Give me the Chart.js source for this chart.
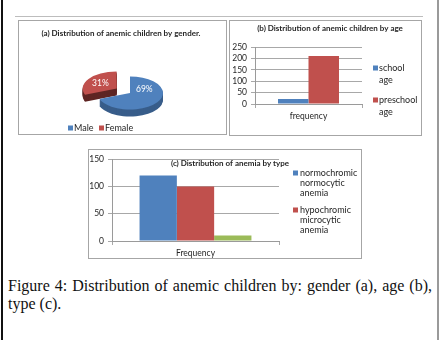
<!DOCTYPE html>
<html><head><meta charset="utf-8">
<script src="https://cdn.jsdelivr.net/npm/chart.js@4.4.1/dist/chart.umd.min.js"></script>
<style>
html,body{margin:0;padding:0;background:#fff;}
body{width:439px;height:340px;position:relative;overflow:hidden;}
.ln{position:absolute;}
.panel{position:absolute;box-sizing:border-box;border:1px solid #a6a6a6;background:#fff;}
.panel canvas{position:absolute;left:0;top:0;}
#cap{position:absolute;left:8px;top:277px;width:424px;font-family:"Liberation Serif",serif;font-size:16px;line-height:18px;color:#111;text-align:justify;}
</style></head>
<body>
<div class="ln" style="left:1px;top:0;width:2px;height:340px;background:#111"></div>
<div class="ln" style="left:437px;top:0;width:2px;height:340px;background:#9a9a9a"></div>
<div class="ln" style="left:15px;top:16px;width:408px;height:1px;background:#bdbdbd"></div>
<div class="panel" style="left:18px;top:20px;width:209px;height:115px"><canvas id="ca" width="207" height="113"></canvas></div>
<div class="panel" style="left:229px;top:20px;width:193px;height:116px"><canvas id="cb" width="191" height="114"></canvas></div>
<div class="panel" style="left:88px;top:149px;width:274px;height:110px"><canvas id="cc" width="272" height="108"></canvas></div>
<div id="cap">Figure 4: Distribution of anemic children by: gender (a), age (b), type (c).</div>
<script>
// ---- data ----
const genderLabels = ['Male', 'Female'];
const genderValues = [69, 31];
const ageCategories = ['frequency'];
const ageSeries = ['school age', 'preschool age'];
const ageValues = [22, 210];
const ageTicks = [0, 50, 100, 150, 200, 250];
const typeCategories = ['Frequency'];
const typeSeries = ['normochromic normocytic anemia', 'hypochromic microcytic anemia', 'other'];
const typeValues = [120, 100, 10];
const typeTicks = [0, 50, 100, 150];
const titleA = '(a) Distribution of anemic children by gender.';
const titleB = '(b) Distribution of anemic children by age';
const titleC = '(c) Distribution of anemia by type';

// ---- styles ----
const BLUE = '#4F81BD', RED = '#C0504D', GREEN = '#9BBB59';
const GRID = '#a8a8a8', AXIS = '#9a9a9a', TXT = '#262626';
const FONT = 'Lato';
const TICKFONT = { family: FONT, size: 8.5 };

function makeTexts(items) {
  return { id: 'texts', afterDraw(chart) {
    const ctx = chart.ctx;
    items.forEach(it => {
      ctx.save();
      ctx.font = it.font; ctx.fillStyle = it.color || TXT;
      ctx.textAlign = it.align || 'left'; ctx.textBaseline = 'middle';
      ctx.fillText(it.text, it.x, it.y);
      ctx.restore();
    });
  }};
}
function makeKeys(items, cfg) {
  return { id: 'keys', afterDraw(chart) {
    const ctx = chart.ctx;
    ctx.save();
    items.forEach(it => {
      ctx.fillStyle = it.color;
      ctx.fillRect(it.x, it.y - cfg.size / 2, cfg.size, cfg.size);
      ctx.font = cfg.font; ctx.fillStyle = TXT; ctx.textBaseline = 'middle'; ctx.textAlign = 'left';
      it.lines.forEach((l, j) => ctx.fillText(l, it.x + cfg.gap, it.y + j * cfg.lh));
    });
    ctx.restore();
  }};
}
function makePie3d(cfg) {
  return {
    id: 'pie3d',
    beforeDatasetsDraw(chart) {
      const ctx = chart.ctx;
      const meta = chart.getDatasetMeta(0);
      const cx = meta.data[0].x, cy = meta.data[0].y;
      ctx.save();
      ctx.translate(cx, cy); ctx.scale(1, cfg.tilt); ctx.translate(-cx, -cy);
      for (let k = cfg.depth; k >= 1; k--) {
        ctx.save();
        ctx.translate(0, k / cfg.tilt);
        meta.data.forEach((el, i) => {
          const fake = Object.create(el);
          fake.options = Object.assign({}, el.options, {backgroundColor: cfg.side[i], borderColor: cfg.side[i]});
          fake.draw(ctx);
        });
        ctx.restore();
      }
    },
    afterDatasetsDraw(chart) {
      const ctx = chart.ctx;
      ctx.restore();
      const meta = chart.getDatasetMeta(0);
      const vals = chart.data.datasets[0].data;
      const total = vals.reduce((a, b) => a + b, 0);
      ctx.save();
      ctx.font = cfg.font; ctx.fillStyle = '#fff'; ctx.textAlign = 'center'; ctx.textBaseline = 'middle';
      meta.data.forEach((el, i) => {
        const mid = (el.startAngle + el.endAngle) / 2;
        const off = (el.options.offset || 0) / 4;
        const r = el.outerRadius * cfg.labelR[i] + off;
        const x = el.x + Math.cos(mid) * r + cfg.shift[i][0];
        const y = el.y + Math.sin(mid) * r * cfg.tilt + cfg.shift[i][1];
        ctx.fillText(Math.round(vals[i] / total * 100) + '%', x, y);
      });
      ctx.restore();
    }
  };
}
function fixedTicks(list) {
  return function (s) { s.ticks = list.map(v => ({ value: v })); };
}

// ---- (a) pie ----
new Chart(document.getElementById('ca'), {
  type: 'pie',
  data: { labels: genderLabels, datasets: [{ data: genderValues, backgroundColor: [BLUE, RED], borderWidth: 0, offset: [0, 64], radius: 33, clip: false }] },
  options: {
    responsive: false, animation: false, events: [],
    layout: { padding: { left: 70, right: 55, top: 31, bottom: 0 } },
    plugins: { legend: { display: false }, tooltip: { enabled: false } }
  },
  plugins: [
    makePie3d({ tilt: 0.5, depth: 7, side: ['#385D8A', '#5E2523'], labelR: [0.45, 0.6], shift: [[2, -8], [0, 0]], font: '8.5px ' + FONT }),
    makeTexts([{ text: titleA, x: 102, y: 12, font: 'bold 8px ' + FONT, align: 'center' }]),
    makeKeys([{ color: BLUE, x: 49, y: 107, lines: [genderLabels[0]] }, { color: RED, x: 80, y: 107, lines: [genderLabels[1]] }],
      { size: 5, gap: 6, lh: 10, font: '9px ' + FONT })
  ]
});

// ---- (b) bars by age ----
const ageColors = [BLUE, RED];
new Chart(document.getElementById('cb'), {
  type: 'bar',
  data: { labels: ageCategories, datasets: ageSeries.map((s, i) => ({ label: s, data: [ageValues[i]], backgroundColor: ageColors[i], categoryPercentage: 0.57, barPercentage: 1 })) },
  options: {
    responsive: false, animation: false, events: [],
    layout: { padding: { left: 0, top: 26, right: 59, bottom: 0 } },
    plugins: { legend: { display: false }, tooltip: { enabled: false } },
    scales: {
      x: { grid: { drawOnChartArea: false, tickLength: 4, color: GRID }, border: { color: AXIS },
           ticks: { color: TXT, font: TICKFONT, padding: 3 }, afterFit(s) { s.height = 31; } },
      y: { min: ageTicks[0], max: ageTicks[ageTicks.length - 1], grid: { color: GRID, tickLength: 4 }, border: { color: AXIS },
           afterBuildTicks: fixedTicks(ageTicks),
           ticks: { autoSkip: false, color: TXT, font: TICKFONT, padding: 4 }, afterFit(s) { s.width = 25; } }
    }
  },
  plugins: [
    makeTexts([{ text: titleB, x: 100, y: 7, font: 'bold 8px ' + FONT, align: 'center' }]),
    makeKeys(ageSeries.map((s, i) => ({ color: ageColors[i], x: 143, y: [47, 79][i], lines: s.split(' ') })),
      { size: 5, gap: 6, lh: 12, font: '9px ' + FONT })
  ]
});

// ---- (c) bars by type ----
const typeColors = [BLUE, RED, GREEN];
new Chart(document.getElementById('cc'), {
  type: 'bar',
  data: { labels: typeCategories, datasets: typeSeries.map((s, i) => ({ label: s, data: [typeValues[i]], backgroundColor: typeColors[i], categoryPercentage: 0.67, barPercentage: 1 })) },
  options: {
    responsive: false, animation: false, events: [],
    layout: { padding: { left: 0, top: 5, right: 82, bottom: 0 } },
    plugins: { legend: { display: false }, tooltip: { enabled: false } },
    scales: {
      x: { grid: { drawOnChartArea: false, tickLength: 4, color: GRID }, border: { color: AXIS },
           ticks: { color: TXT, font: TICKFONT, padding: 3 }, afterFit(s) { s.height = 17; } },
      y: { min: typeTicks[0], max: typeTicks[typeTicks.length - 1], grid: { color: GRID, tickLength: 4 }, border: { color: AXIS },
           afterBuildTicks: fixedTicks(typeTicks),
           ticks: { autoSkip: false, color: TXT, font: TICKFONT, padding: 4 }, afterFit(s) { s.width = 23; } }
    }
  },
  plugins: [
    makeTexts([{ text: titleC, x: 141, y: 13, font: 'bold 8px ' + FONT, align: 'center' }]),
    makeKeys(typeSeries.slice(0, 2).map((s, i) => ({ color: typeColors[i], x: 204, y: [23, 60][i], lines: s.split(' ') })),
      { size: 5, gap: 7, lh: 10, font: '9px ' + FONT })
  ]
});
</script>
</body></html>
